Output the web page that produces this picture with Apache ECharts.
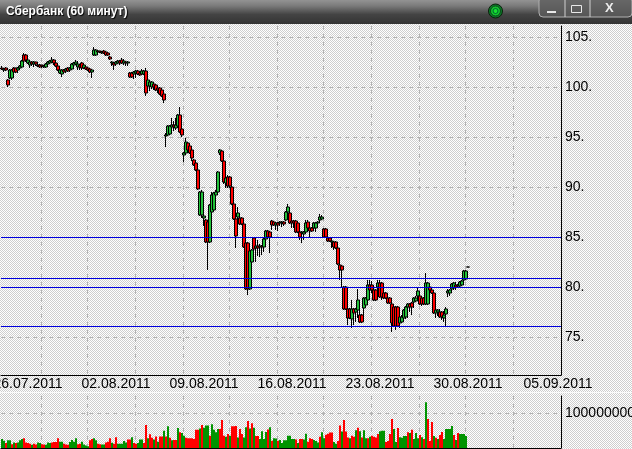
<!DOCTYPE html>
<html><head><meta charset="utf-8">
<style>html,body{margin:0;padding:0;background:#e0e0e0;overflow:hidden}#c{width:632px;height:449px}</style>
<script src="https://cdn.jsdelivr.net/npm/echarts@6/dist/echarts.min.js"></script>
</head><body><div id="c"></div>
<script>
const titleText = 'Сбербанк (60 минут)';
const slotCount = 280;
const dateLabels = ['26.07.2011','02.08.2011','09.08.2011','16.08.2011','23.08.2011','30.08.2011','05.09.2011'];
const dateLabelSlots = [13,57,101,145,189,233,278];
const gridSlots = [20,43,67,91,114,138,161,185,209,232,256];
const priceTicks = [75,80,85,90,95,100,105];
const volumeTicks = [100000000];
const levels = [85,80.9,80,76.1];

const bodyTop = [101.9,101.8,101.9,100.7,101.7,101.7,101.9,101.9,101.9,102.1,
102.6,103.2,103.2,102.7,102.5,102.5,102.5,102.5,102.2,102.2,
102.2,102.1,102.3,102.5,102.6,102.7,102.7,102.4,102.1,101.7,
101.7,101.7,101.8,101.9,101.9,102.3,102.4,102.5,102.3,102.2,
102.4,102.2,102.0,101.9,101.8,101.7,103.7,103.7,103.6,103.6,
103.5,103.6,103.5,103.4,103.0,102.5,102.4,102.5,102.6,102.6,
102.7,102.6,102.5,102.5,101.4,101.4,101.5,101.6,101.6,101.4,
101.6,101.6,101.6,100.7,100.5,100.5,100.3,100.2,99.9,99.9,
99.7,99.3,95.2,96.1,96.1,96.2,96.2,96.2,97.2,97.2,
95.8,93.4,94.5,94.4,94.1,93.7,92.7,92.4,91.7,89.5,
89.5,87.1,86.7,86.5,88.2,89.2,89.4,89.5,91.5,93.7,
93.6,92.6,90.9,91.0,91.0,90.0,88.3,86.8,87.4,86.9,
86.9,86.3,84.4,84.4,83.6,83.7,84.9,84.1,84.1,84.1,
84.1,84.8,85.6,85.6,85.5,86.6,86.5,86.4,86.4,86.5,
86.5,86.5,87.5,88.0,87.4,86.6,86.6,86.6,86.4,85.5,
85.5,85.5,86.4,86.5,85.9,85.9,86.4,86.4,86.5,87.0,
87.0,85.8,85.8,84.9,84.9,84.6,84.5,84.5,83.9,82.2,
82.1,80.0,80.0,77.8,77.8,77.8,77.8,77.8,78.7,77.2,
77.2,78.9,78.9,80.2,80.2,80.2,79.7,79.7,80.4,80.4,
80.4,79.4,79.4,78.9,78.9,78.3,78.0,78.0,78.0,77.0,
77.0,77.7,78.0,78.3,78.3,78.4,78.9,78.9,79.6,79.1,
78.9,78.9,80.4,80.4,80.0,79.7,79.4,77.7,77.7,77.5,
77.5,77.2,77.8,79.6,79.7,80.3,80.4,80.2,80.2,80.5,
80.6,81.6,81.6,82.0];
const bodyBottom = [101.8,101.7,101.7,100.2,100.9,100.9,101.5,101.5,101.7,101.9,
102.0,102.6,102.7,102.4,102.2,102.3,102.3,102.3,102.1,102.0,
102.1,102.0,102.0,102.3,102.4,102.5,102.4,102.1,101.7,101.4,
101.3,101.5,101.6,101.6,101.7,101.8,102.2,102.3,102.0,102.0,
101.9,101.9,101.8,101.7,101.5,101.5,103.2,103.2,103.5,103.5,
103.4,103.4,103.2,103.2,102.8,102.4,102.2,102.3,102.4,102.4,
102.4,102.4,102.4,102.4,101.0,101.0,101.3,101.4,101.3,101.2,
101.3,101.3,99.4,100.1,100.1,100.0,100.0,99.7,99.7,99.3,
99.1,98.7,95.1,95.2,95.3,96.0,96.0,95.9,96.1,95.5,
95.2,93.2,93.4,93.7,93.4,92.9,92.2,91.7,89.8,87.2,
87.2,86.9,84.5,84.5,84.5,87.5,87.7,89.2,89.5,93.4,
92.6,90.5,90.4,90.1,90.1,88.3,86.8,85.1,87.0,86.3,
86.3,84.0,79.8,79.8,79.8,82.5,83.8,83.9,83.9,84.0,
84.0,84.0,84.8,85.0,85.0,86.2,86.2,86.2,86.2,86.4,
86.4,86.3,86.7,87.5,86.4,86.4,86.4,85.5,85.5,85.0,
85.4,85.3,85.5,85.9,85.6,85.6,85.9,85.9,86.4,86.7,
86.8,85.0,85.0,84.6,84.6,84.5,84.0,83.9,82.3,81.7,
81.7,77.8,77.8,76.9,76.9,76.8,77.4,77.5,77.7,76.5,
76.5,77.9,78.2,78.7,79.7,79.7,78.7,78.7,80.0,79.0,
79.0,78.9,78.9,78.4,78.4,76.4,76.1,76.1,76.1,76.4,
76.5,76.9,77.0,78.0,78.0,78.0,78.5,78.6,79.1,78.3,
78.3,78.3,78.3,78.3,79.7,79.4,77.4,77.4,77.5,77.0,
77.0,76.9,77.3,79.4,79.4,79.8,79.9,80.0,80.1,80.1,
80.2,80.7,80.8,82.0];
const wickHigh = [102.1,101.8,102.0,100.8,101.8,101.8,102.0,101.9,102.0,102.2,
102.7,103.4,103.3,102.8,102.6,102.6,102.6,102.5,102.3,102.3,
102.2,102.2,102.4,102.6,102.7,103.0,102.8,102.5,102.2,101.8,
101.8,101.8,101.9,102.0,102.0,102.4,102.5,102.7,102.6,102.3,
102.5,102.3,102.1,102.0,101.9,101.8,104.0,103.8,103.7,103.6,
103.6,103.7,103.6,103.5,103.1,102.6,102.5,102.6,102.7,102.7,
102.9,102.8,102.6,102.6,101.5,101.5,101.6,101.7,101.7,101.5,
101.8,101.7,101.9,100.8,100.6,100.6,100.4,100.3,100.0,100.0,
99.8,99.4,95.4,96.2,96.2,96.9,96.6,96.9,97.3,98.0,
95.9,93.5,94.9,94.5,94.2,93.8,92.8,92.5,91.8,89.6,
89.7,87.4,86.8,86.6,88.3,89.5,89.5,89.7,91.6,93.8,
93.7,92.7,91.1,91.2,91.1,90.1,88.4,86.9,88.0,87.2,
87.0,86.4,84.5,84.5,83.7,83.8,85.0,84.9,84.7,84.3,
84.2,84.9,85.7,85.7,85.6,86.7,86.6,86.5,86.5,86.6,
86.6,86.6,87.6,88.3,87.5,86.8,86.7,86.7,86.5,85.6,
85.6,85.6,86.7,86.7,86.0,86.0,86.5,86.5,86.6,87.3,
87.2,85.9,85.9,85.0,85.0,84.7,84.6,84.6,84.0,82.3,
82.2,80.1,80.1,77.9,77.9,78.7,77.9,77.9,79.8,78.7,
77.3,79.0,79.0,80.7,80.7,80.6,80.2,79.8,80.7,80.7,
80.5,79.5,79.5,79.0,79.0,78.4,78.1,78.1,78.1,77.1,
77.2,77.8,78.1,78.4,78.4,78.5,79.0,79.1,79.9,79.6,
79.0,79.0,81.4,80.5,80.1,79.8,79.5,77.9,77.8,77.8,
77.6,77.6,78.0,79.8,79.8,80.4,80.5,80.5,80.3,80.6,
80.7,81.7,81.7,82.0];
const wickLow = [101.7,101.5,101.6,100.0,100.8,100.7,101.4,101.4,101.4,101.7,
101.9,102.5,102.5,102.3,101.9,102.1,102.0,102.1,102.0,101.9,
101.9,101.9,101.9,102.2,102.3,102.4,102.2,102.0,101.6,101.3,
101.0,101.3,101.4,101.5,101.5,101.7,102.1,102.2,101.7,101.7,
101.7,101.8,101.7,101.6,101.4,100.9,103.1,103.1,103.4,103.4,
103.3,103.3,103.1,103.1,102.7,102.1,101.7,102.1,102.3,102.2,
102.3,102.2,102.1,102.1,100.9,100.9,100.8,100.9,101.2,101.1,
101.2,101.2,99.1,99.7,99.6,99.8,99.7,99.6,99.4,99.2,
99.0,98.4,94.0,95.1,95.2,95.4,95.6,95.7,96.0,95.4,
95.0,92.5,93.3,93.6,93.3,92.6,92.1,91.6,89.7,87.1,
86.9,86.1,84.4,81.7,84.4,86.7,87.6,89.1,89.4,93.2,
92.5,90.3,89.9,89.9,89.9,88.2,86.7,83.9,86.6,86.2,
86.2,83.9,79.7,79.2,79.7,81.6,83.7,82.5,83.1,83.0,
83.2,83.5,84.0,84.9,83.4,85.7,86.1,85.7,85.6,86.1,
86.0,86.1,86.6,87.4,86.3,85.9,85.9,85.4,85.4,84.7,
84.4,84.7,85.4,85.5,85.0,85.5,85.8,85.5,86.3,86.5,
86.7,84.9,84.9,84.5,84.5,83.9,83.7,83.8,82.2,80.7,
80.0,77.7,77.7,76.2,76.8,75.9,76.2,76.5,76.9,76.4,
76.4,76.7,78.1,78.6,79.2,79.4,78.6,78.6,79.5,78.9,
78.7,78.8,78.8,78.3,78.3,75.5,76.0,75.7,76.0,75.9,
76.4,76.8,76.8,76.9,77.5,77.2,77.9,78.5,78.7,78.2,
78.1,78.2,78.2,78.2,79.6,79.3,77.3,76.9,77.1,76.9,
76.7,76.5,76.1,79.0,79.1,79.6,79.7,79.7,79.9,80.0,
80.1,80.6,80.7,82.0];
const candleDirs = 'rgrrggrrgg'+'grrggrgrrr'+'rgggggrrrg'+'grgrgggggr'+'rgrrrgggrr'+'grrrrgrggr'+'rgrgrrggrr'+'ggrgggrrrr'+
'rrggggrggr'+'rggrrrrrrg'+'ggrrgggggg'+'rrgrrrrrgr'+'rrrrggrgrg'+'rggrrrrgrg'+'grggrrrrrr'+'gggrrrgggg'+
'grrrrgrrrr'+'rrrrrgrggr'+'rgggrrrrgr'+'rrrrrrrrrg'+'ggggrrgggr'+'rrggrrrggr'+'rggggggrgg'+'gggg';

const volumeMillions = [26,21,14,22,22,11,16,14,16,22,
26,28,16,14,12,9,12,10,16,14,
11,10,9,16,14,16,17,17,28,18,
18,12,10,9,17,23,18,28,11,12,
18,10,7,5,22,26,28,22,12,11,
10,10,16,18,28,15,12,31,12,12,
12,20,16,24,24,31,14,12,14,24,
24,14,66,28,39,29,24,33,18,33,
33,49,33,62,29,22,23,23,57,45,
43,35,29,28,28,28,26,52,52,56,
66,58,64,64,35,68,52,45,54,54,
80,35,32,40,35,62,62,63,30,54,
40,30,59,77,56,71,58,34,34,26,
48,26,46,53,59,21,28,27,21,23,
14,22,22,35,35,26,26,24,14,26,
26,24,41,18,28,26,23,20,16,32,
45,28,38,41,44,44,17,12,20,64,
47,80,47,30,28,35,32,51,58,48,
30,51,28,28,32,35,32,30,40,48,
49,49,17,20,40,83,54,17,57,31,
29,34,34,45,43,52,26,43,28,37,
31,26,131,83,20,74,34,29,26,37,
46,26,54,54,54,63,37,23,43,40,
40,40,34];
const volumeDirs = 'ggrggrgrgg'+'grrrrgrrgg'+'rrgggrrrrg'+'grrrggggrr'+'ggggrrggrr'+'ggrrrgrrgg'+'gggrrgrrgg'+'grrgrrgrgr'+
'rgrgrgrrgr'+'ggrrrrrrrg'+'rgggrggggr'+'rrgrgrrrgr'+
'rggrgrgrrg'+'gggrgrggrg'+'gggggggrgr'+'rggrrrgggr'+'ggrrrrggrr'+'grrrgrrgrg'+'rggrgrrrrg'+
'ggrrrrggrg'+'gggrgrgggr'+'grgrrrgrgr'+'rgggggrgrg'+'ggg';

function dither(a,b){
  const c=document.createElement('canvas');c.width=2;c.height=2;
  const x=c.getContext('2d');x.fillStyle=a;x.fillRect(0,0,2,2);x.fillStyle=b;x.fillRect(0,0,1,1);x.fillRect(1,1,1,1);
  return c;
}
const categories = Array.from({length:slotCount},(_,i)=>{const k=dateLabelSlots.indexOf(i);return k>=0?dateLabels[k]:'';});
const candles = bodyTop.map((t,i)=>{
  const up=candleDirs[i]==='g';
  return [up?bodyBottom[i]:t, up?t:bodyBottom[i], wickLow[i], wickHigh[i]];
});
const GREEN='#22c03a', RED='#ff0000', VG='#009400', BLUE='#0000dc';
const dash={color:'#b2b2b2',type:[4,4],width:1};
const labelFont={fontFamily:'"Liberation Sans"',fontSize:14,color:'#000'};
const chart=echarts.init(document.getElementById('c'),null,{renderer:'canvas',width:632,height:449});
chart.setOption({
  animation:false,
  backgroundColor:{image:dither('#ffffff','#cecece'),repeat:'repeat'},
  title:{text:titleText,left:6,top:6,textStyle:{color:'#fff',fontSize:12,fontWeight:'bold',fontFamily:'"Liberation Sans"',textShadowColor:'#000',textShadowBlur:1,textShadowOffsetX:1,textShadowOffsetY:1},z:30,padding:0},
  grid:[{left:1,top:26,width:560,height:349,outerBoundsMode:'none',containLabel:false},{left:1,top:396,width:560,height:52,outerBoundsMode:'none',containLabel:false}],
  xAxis:[
   {type:'category',gridIndex:0,data:categories,boundaryGap:true,
    axisLine:{lineStyle:{color:'#000',width:1},onZero:false},axisTick:{show:false},
    axisLabel:Object.assign({interval:(i)=>dateLabelSlots.includes(i),margin:2,hideOverlap:false,showMinLabel:true,showMaxLabel:true},labelFont),
    splitLine:{show:true,interval:(i)=>gridSlots.includes(i),lineStyle:dash}},
   {type:'category',gridIndex:1,data:categories,boundaryGap:true,
    axisLine:{lineStyle:{color:'#000',width:1},onZero:false},axisTick:{show:false},axisLabel:{show:false},
    splitLine:{show:true,interval:(i)=>gridSlots.includes(i),lineStyle:dash}}
  ],
  yAxis:[
   {type:'value',gridIndex:0,position:'right',min:71.2,max:106.1,
    axisLine:{show:true,lineStyle:{color:'#000',width:1}},
    axisTick:{show:false,customValues:priceTicks},
    axisLabel:Object.assign({customValues:priceTicks,margin:4,formatter:(v)=>v+'.'},labelFont),
    splitLine:{show:true,lineStyle:dash}},
   {type:'value',gridIndex:1,position:'right',min:0,max:148600000,
    axisLine:{show:true,lineStyle:{color:'#000',width:1}},
    axisTick:{show:false,customValues:volumeTicks},
    axisLabel:Object.assign({customValues:volumeTicks,margin:4,formatter:(v)=>String(v)},labelFont),
    splitLine:{show:true,lineStyle:dash}}
  ],
  series:[
   {type:'candlestick',xAxisIndex:0,yAxisIndex:0,data:candles,barWidth:4,
    itemStyle:{color:GREEN,color0:RED,borderColor:'#000',borderColor0:'#000',borderColorDoji:'#000',borderWidth:1},
    markLine:{silent:true,symbol:'none',label:{show:false},lineStyle:{color:BLUE,width:1,type:'solid',opacity:1},data:levels.map(v=>({yAxis:v,lineStyle:{color:BLUE,width:1,type:'solid',opacity:1}}))}},
   {type:'bar',xAxisIndex:1,yAxisIndex:1,barWidth:'100%',
    data:volumeMillions.map((v,i)=>({value:v*1000000,itemStyle:{color:volumeDirs[i]==='g'?VG:RED}}))}
  ],
  graphic:[
   {type:'rect',z:20,shape:{x:0,y:0,width:632,height:24},style:{fill:new echarts.graphic.LinearGradient(0,0,0,1,[{offset:0,color:'#939393'},{offset:.25,color:'#7a7a7a'},{offset:.6,color:'#444'},{offset:1,color:'#333'}])}},
   {type:'rect',z:20,shape:{x:0,y:392,width:632,height:1},style:{fill:'#fff',opacity:.8}},
   {type:'circle',z:21,shape:{cx:495.5,cy:11,r:7},style:{fill:'#0c7a2a',stroke:'#0a1f0a',lineWidth:1}},
   {type:'circle',z:22,shape:{cx:495.5,cy:11,r:5},style:{fill:'#12c52c',stroke:'#0b4a1a',lineWidth:1}},
   {type:'circle',z:23,shape:{cx:495.5,cy:11,r:2.5},style:{fill:'#18e030',stroke:'#063',lineWidth:1}},
   {type:'rect',z:21,shape:{x:539,y:-3,width:93,height:20,r:4},style:{fill:new echarts.graphic.LinearGradient(0,0,0,1,[{offset:0,color:'#6a6a6a'},{offset:1,color:'#555'}]),stroke:'#b0b0b0',lineWidth:1}},
   {type:'rect',z:22,shape:{x:564.5,y:0,width:1,height:17},style:{fill:'#d0d0d0'}},
   {type:'rect',z:22,shape:{x:589.5,y:0,width:1,height:17},style:{fill:'#d0d0d0'}},
   {type:'rect',z:23,shape:{x:547,y:11,width:9,height:2},style:{fill:'#e8e8e8'}},
   {type:'rect',z:23,shape:{x:571.5,y:5.5,width:10,height:7},style:{fill:'none',stroke:'#e8e8e8',lineWidth:1}},
   {type:'text',z:23,x:605,y:2,style:{text:'X',fill:'#ececec',font:'bold 13px "Liberation Sans"'}}
  ]
});
</script>
</body></html>
